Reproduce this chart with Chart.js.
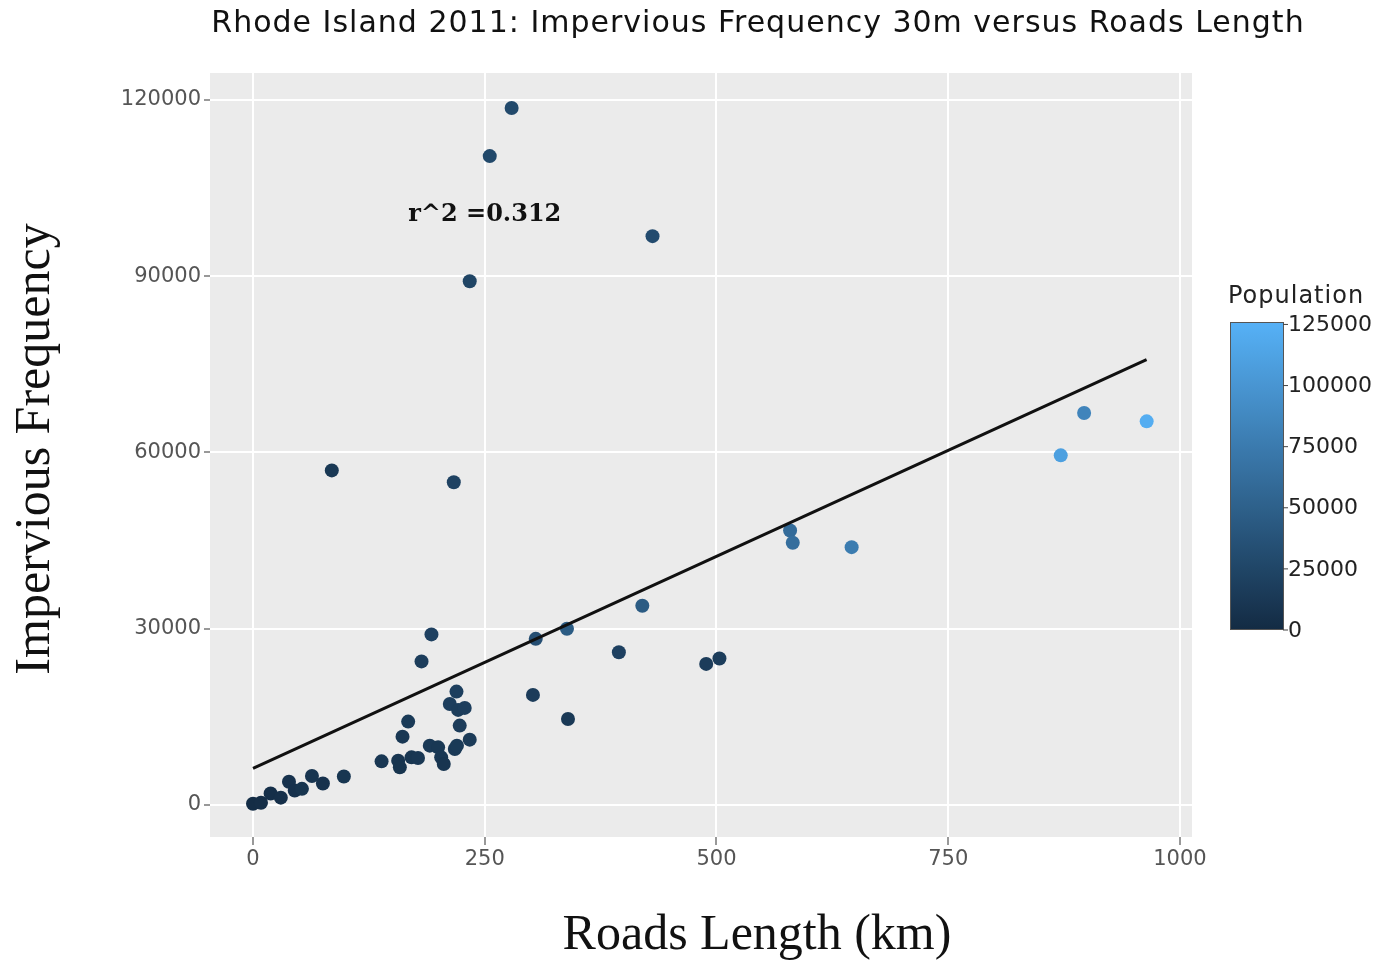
<!DOCTYPE html>
<html>
<head>
<meta charset="utf-8">
<title>Rhode Island 2011</title>
<script src="https://cdn.jsdelivr.net/npm/chart.js@4.4.0/dist/chart.umd.min.js"></script>
<style>
  html, body { margin: 0; padding: 0; background: #fff; }
  #chart { display: block; }
</style>
</head>
<body>
<canvas id="chart" width="1378" height="961"></canvas>
<script>
// road length per town (km)
const roadsKm = [
  0, 8.6, 19, 30, 38.8, 45, 52.8, 63.6, 75.4, 98,
  138.7, 156.6, 158.4, 161.3, 167.4, 171, 178, 181.8, 190.7, 192.5,
  199.7, 203, 205.8, 212.3, 217.7, 220, 219.5, 221.3, 223, 228.4, 233.8,
  85, 216.6, 233.8, 255.4, 279, 431,
  305, 302, 338.7, 339.8, 394.7, 420, 488.9, 503.2,
  579.4, 582.3, 645.8, 871.4, 896.6, 964.1
];
// impervious frequency (30m cells)
const impervious = [
  170, 340, 1900, 1200, 3900, 2400, 2700, 4900, 3600, 4800,
  7380, 7500, 6360, 11590, 14150, 8060, 7960, 24400, 10060, 29000,
  9770, 8060, 6940, 17160, 9490, 10060, 19260, 16140, 13470, 16480, 11080,
  56930, 54900, 89150, 110450, 118630, 96820,
  28240, 18700, 29950, 14600, 25960, 33870, 23980, 24890,
  46700, 44600, 43860, 59490, 66700, 65280
];
// population
const population = [
  2000, 3000, 4000, 5000, 7000, 6000, 8000, 9000, 7000, 10000,
  11000, 9000, 8000, 12000, 14000, 10000, 11000, 17000, 13000, 20000,
  12000, 11000, 9000, 18000, 13000, 14000, 19000, 17000, 16000, 18000, 15000,
  12000, 22000, 24000, 27000, 28000, 30000,
  33000, 16000, 45000, 13000, 20000, 45000, 16000, 17000,
  60000, 63000, 76000, 110000, 84000, 122000
];
// fitted line ends
const trendKm = [0, 964];
const trendFreq = [6200, 75800];
const rSquared = '0.312';

const xTicks = [0, 250, 500, 750, 1000];
const yTicks = [0, 30000, 60000, 90000, 120000];
const popTicks = [0, 25000, 50000, 75000, 100000, 125000];
const popRange = [0, 126000];

const lowColor = [19, 43, 67];
const highColor = [86, 177, 247];

function popColor(p) {
  const t = Math.max(0, Math.min(1, (p - popRange[0]) / (popRange[1] - popRange[0])));
  const c = lowColor.map((v, i) => Math.round(v + (highColor[i] - v) * t));
  return `rgb(${c[0]},${c[1]},${c[2]})`;
}

const points = roadsKm.map((x, i) => ({ x, y: impervious[i] }));
const trend = trendKm.map((x, i) => ({ x, y: trendFreq[i] }));

const tickFont = { family: 'DejaVu Sans', size: 21 };

// grey panel + texts + colour bar
const decorations = {
  id: 'decorations',
  beforeDraw(chart) {
    const { ctx, chartArea: a } = chart;
    ctx.save();
    ctx.fillStyle = '#ebebeb';
    ctx.fillRect(a.left, a.top, a.right - a.left, a.bottom - a.top);
    ctx.restore();
  },
  afterDraw(chart) {
    const { ctx, scales } = chart;
    ctx.save();
    ctx.fillStyle = '#111';
    ctx.textAlign = 'center';
    ctx.textBaseline = 'middle';

    // title
    ctx.font = '30px "DejaVu Sans"';
    ctx.letterSpacing = '1px';
    ctx.fillText('Rhode Island 2011: Impervious Frequency 30m versus Roads Length', 758, 24);
    ctx.letterSpacing = '0px';

    // axis titles
    ctx.font = '50px "Liberation Serif"';
    ctx.fillText('Roads Length (km)', 757, 936);
    ctx.save();
    ctx.translate(36, 449);
    ctx.rotate(-Math.PI / 2);
    ctx.fillText('Impervious Frequency', 0, 0);
    ctx.restore();

    // r^2 label
    ctx.font = 'bold 24px "DejaVu Serif"';
    ctx.fillText('r^2 =' + rSquared, scales.x.getPixelForValue(250), scales.y.getPixelForValue(100000) - 3);

    // colour bar
    const barL = 1230, barR = 1284, barT = 322, barB = 630;
    const grad = ctx.createLinearGradient(0, barB, 0, barT);
    for (let k = 0; k <= 10; k++) grad.addColorStop(k / 10, popColor(popRange[0] + (popRange[1] - popRange[0]) * k / 10));
    ctx.fillStyle = grad;
    ctx.fillRect(barL, barT, barR - barL, barB - barT);
    ctx.strokeStyle = '#555';
    ctx.lineWidth = 1;
    ctx.strokeRect(barL + 0.5, barT + 0.5, barR - barL - 1, barB - barT - 1);

    ctx.fillStyle = '#222';
    ctx.textAlign = 'left';
    ctx.font = '24px "DejaVu Sans"';
    ctx.letterSpacing = '1px';
    ctx.fillText('Population', 1228, 297);
    ctx.letterSpacing = '0px';
    ctx.font = '22px "DejaVu Sans"';
    popTicks.forEach(v => {
      const y = barB - (v - popRange[0]) / (popRange[1] - popRange[0]) * (barB - barT);
      ctx.strokeStyle = '#444';
      ctx.beginPath();
      ctx.moveTo(barR - 1, y);
      ctx.lineTo(barR + 4, y);
      ctx.stroke();
      ctx.fillText(String(v), barR + 4, y + 1);
    });
    ctx.restore();
  }
};

new Chart(document.getElementById('chart'), {
  type: 'scatter',
  data: {
    datasets: [
      {
        label: 'fit',
        data: trend,
        showLine: true,
        borderColor: '#111',
        borderWidth: 3,
        pointRadius: 0,
        order: 0
      },
      {
        label: 'towns',
        data: points,
        pointRadius: 7,
        pointBorderWidth: 0,
        pointBackgroundColor: population.map(popColor),
        pointBorderColor: population.map(popColor),
        order: 1
      }
    ]
  },
  options: {
    responsive: false,
    animation: false,
    layout: { padding: { top: 73, right: 186, left: 0, bottom: 0 } },
    plugins: { legend: { display: false }, tooltip: { enabled: false } },
    scales: {
      x: {
        type: 'linear',
        min: -46.4,
        max: 1013,
        afterBuildTicks: s => { s.ticks = xTicks.map(v => ({ value: v })); },
        afterFit: s => { s.height = 124; },
        grid: { color: '#fff', lineWidth: 2, tickColor: '#777', tickLength: 8, tickWidth: 1.5 },
        border: { display: false },
        ticks: { font: tickFont, color: '#555', padding: 2, maxRotation: 0, callback: v => String(v) }
      },
      y: {
        type: 'linear',
        min: -5500,
        max: 124600,
        afterBuildTicks: s => { s.ticks = yTicks.map(v => ({ value: v })); },
        afterFit: s => { s.width = 210; },
        grid: { color: '#fff', lineWidth: 2, tickColor: '#777', tickLength: 6, tickWidth: 1.5 },
        border: { display: false },
        ticks: { font: tickFont, color: '#555', padding: 3, callback: v => String(v) }
      }
    }
  },
  plugins: [decorations]
});
</script>
</body>
</html>
